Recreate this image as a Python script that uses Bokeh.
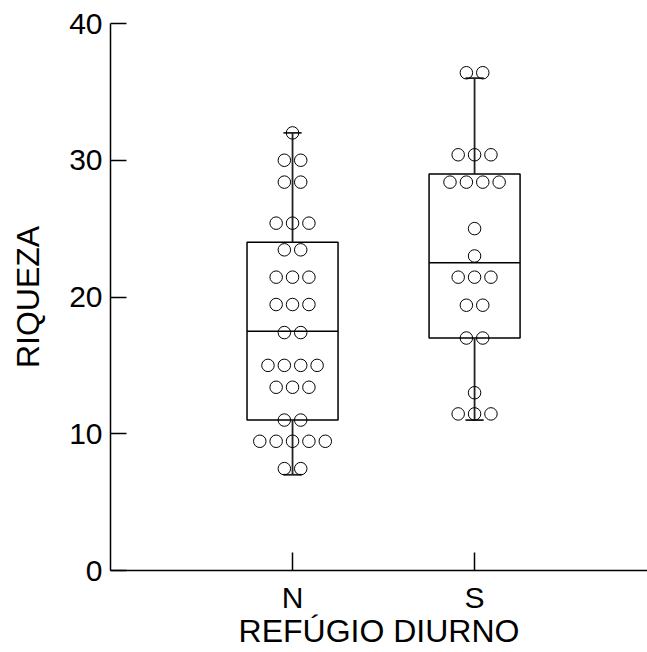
import numpy as np
from bokeh.plotting import figure
from bokeh.models import FixedTicker
from bokeh.embed import file_html
from bokeh.resources import INLINE

# ---- data ----
groups = ["N", "S"]
group_pos = [1, 2]
n_values = [32.0, 30.0, 30.0, 28.4, 28.4, 25.4, 25.4, 25.4, 23.45, 23.45,
            21.45, 21.45, 21.45, 19.45, 19.45, 19.45, 17.4, 17.4,
            15.0, 15.0, 15.0, 15.0, 13.4, 13.4, 13.4, 11.0, 11.0,
            9.45, 9.45, 9.45, 9.45, 9.45, 7.45, 7.45]
s_values = [36.4, 36.4, 30.4, 30.4, 30.4, 28.4, 28.4, 28.4, 28.4, 25.0, 23.0,
            21.45, 21.45, 21.45, 19.4, 19.4, 17.0, 17.0, 13.0,
            11.45, 11.45, 11.45]
whisker_low = [7.0, 11.0]
q1 = [11.0, 17.0]
median = [17.5, 22.5]
q3 = [24.0, 29.0]
whisker_high = [32.0, 36.0]
y_ticks = [0, 10, 20, 30, 40]
x_title = "REFÚGIO DIURNO"
y_title = "RIQUEZA"

FONT = "Liberation Sans"

p = figure(width=647, height=652, x_range=(0, 2.95), y_range=(0, 40),
           output_backend="svg", toolbar_location=None,
           min_border_left=110, min_border_right=0,
           min_border_top=23, min_border_bottom=82)
p.outline_line_color = None
p.xgrid.visible = False
p.ygrid.visible = False
p.background_fill_color = "white"
p.border_fill_color = "white"

# boxes
half_w = 0.25
cap_w = 0.05
left = [g - half_w for g in group_pos]
right = [g + half_w for g in group_pos]
p.quad(left=left, right=right, bottom=q1, top=q3, fill_color=None,
       line_color="black", line_width=1.5)
p.segment(x0=left, x1=right, y0=median, y1=median, line_color="black", line_width=1.5)
# whiskers
p.segment(x0=group_pos, x1=group_pos, y0=q3, y1=whisker_high, line_color="#222222", line_width=1.8)
p.segment(x0=group_pos, x1=group_pos, y0=q1, y1=whisker_low, line_color="#222222", line_width=1.8)
p.segment(x0=[g - cap_w for g in group_pos], x1=[g + cap_w for g in group_pos],
          y0=whisker_high, y1=whisker_high, line_color="#222222", line_width=1.8)
p.segment(x0=[g - cap_w for g in group_pos], x1=[g + cap_w for g in group_pos],
          y0=whisker_low, y1=whisker_low, line_color="#222222", line_width=1.8)

# dots (stacked horizontally per value)
spacing = 0.09
xs, ys = [], []
for pos, vals in zip(group_pos, [n_values, s_values]):
    for v in sorted(set(vals)):
        k = vals.count(v)
        for i in range(k):
            xs.append(pos + (i - (k - 1) / 2) * spacing)
            ys.append(v)
p.scatter(xs, ys, marker="circle", size=12.5, fill_color=None,
          line_color="black", line_width=1)

# axes
p.xaxis.ticker = FixedTicker(ticks=group_pos)
p.xaxis.major_label_overrides = {g: n for g, n in zip(group_pos, groups)}
p.yaxis.ticker = FixedTicker(ticks=y_ticks)
for ax in (p.xaxis[0], p.yaxis[0]):
    ax.axis_line_color = "black"
    ax.axis_line_width = 1.5
    ax.major_tick_line_color = "black"
    ax.major_tick_line_width = 1.5
    ax.major_tick_out = 0
    ax.minor_tick_line_color = None
    ax.major_label_text_font = FONT
    ax.major_label_text_font_size = "30px"
    ax.major_label_text_color = "black"
    ax.axis_label_text_font = FONT
    ax.axis_label_text_font_size = "32px"
    ax.axis_label_text_font_style = "normal"
    ax.axis_label_text_color = "black"
p.xaxis.major_tick_in = 18
p.yaxis.major_tick_in = 16
p.xaxis.major_label_standoff = 10
p.yaxis.major_label_standoff = 8
p.yaxis.axis_label = y_title
p.yaxis.axis_label_standoff = 20
p.xaxis.axis_label = x_title
p.xaxis.axis_label_standoff = -4

open("out.html", "w").write(file_html(p, INLINE))
